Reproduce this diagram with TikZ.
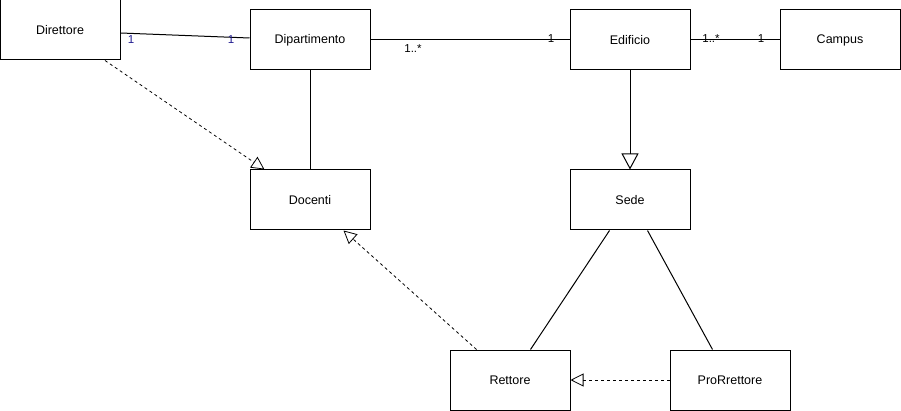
\documentclass[tikz,border=0pt]{standalone}
\usepackage{fontspec}
\setmainfont{Liberation Sans}
\usetikzlibrary{arrows.meta,positioning}
\definecolor{multblue}{HTML}{1F1A8F}

\begin{document}
\begin{tikzpicture}[x=1pt,y=-1pt,font=\fontsize{12.5}{14}\selectfont,line width=1pt,cls/.style={draw,rectangle,minimum width=120pt,minimum height=60pt,inner sep=0pt},ml/.style={font=\fontsize{11.5}{13}\selectfont,inner sep=0pt},dep/.style={dashed,line width=0.8pt,dash pattern=on 3pt off 3pt,-{Triangle[open,length=13pt,width=13pt]}},gen/.style={-{Triangle[open,length=16pt,width=17pt]}}]
\useasboundingbox (0,0) rectangle (901,411);
\node[cls] (Dir) at (60,30) {Direttore};
\node[cls] (Dip) at (310,40) {Dipartimento};
\node[cls] (Edi) at (630,40) {Edificio};
\node[cls] (Cam) at (840,40) {Campus};
\node[cls] (Doc) at (310,200) {Docenti};
\node[cls] (Sed) at (630,200) {Sede};
\node[cls] (Ret) at (510,380) {Rettore};
\node[cls] (Pro) at (730,380) {ProRrettore};
\draw ([yshift=-3pt]Dir.east) -- ([yshift=2pt]Dip.west);
\draw (Dip.east) -- (Edi.west);
\draw (Edi.east) -- (Cam.west);
\draw (Dip.south) -- (Doc.north);
\draw[gen] (Edi.south) -- (Sed.north);
\draw ([xshift=40pt]Sed.south west) -- ([xshift=-40pt]Ret.north east);
\draw ([xshift=-43pt]Sed.south east) -- ([xshift=43pt]Pro.north west);
\draw[dep] ([xshift=45pt]Dir.south) -- ([xshift=15pt]Doc.north west);
\draw[dep] ([xshift=27pt]Ret.north west) -- ([xshift=-27pt]Doc.south east);
\draw[dep] (Pro.west) -- (Ret.east);
% multiplicities
\node[ml,multblue] (m1) at (131,40) {1};
\node[ml,multblue] (m2) at (231,40) {1};
\node[ml] (m3) at (413,49) {1..*};
\node[ml] (m4) at (551,39) {1};
\node[ml] (m5) at (711,39) {1..*};
\node[ml] (m6) at (761,39) {1};
\end{tikzpicture}
\end{document}
